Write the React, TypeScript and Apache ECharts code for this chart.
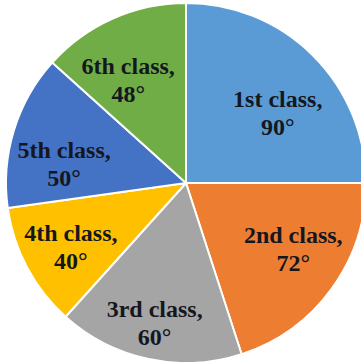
import React, { useEffect, useRef } from "react";
import * as echarts from "echarts";

// Central angle of each class's share, in degrees
const classes = ["1st class", "2nd class", "3rd class", "4th class", "5th class", "6th class"];
const angles = [90, 72, 60, 40, 50, 48];
const colors = ["#5B9BD5", "#ED7D31", "#A5A5A5", "#FFC000", "#4472C4", "#70AD47"];

// Nudges applied to each in-slice label, relative to the default inside spot
const labelNudges: [number, number][] = [
  [26, -4],
  [32, 11],
  [-12, 49],
  [-33, 20],
  [-33, 8],
  [-20, -18],
];

export default function App() {
  const ref = useRef<HTMLDivElement>(null);

  useEffect(() => {
    if (!ref.current) return;
    const chart = echarts.init(ref.current, undefined, { renderer: "svg" });
    chart.setOption({
      animation: false,
      backgroundColor: "#ffffff",
      series: [
        {
          type: "pie",
          center: [186, 183],
          radius: 180,
          startAngle: 90,
          clockwise: true,
          data: classes.map((name, i) => ({
            name,
            value: angles[i],
            itemStyle: { color: colors[i] },
          })),
          itemStyle: { borderColor: "#ffffff", borderWidth: 2 },
          label: {
            show: true,
            position: "inside",
            formatter: "{b},\n{c}°",
            fontFamily: "'Liberation Serif', 'Times New Roman', serif",
            fontWeight: "bold",
            fontSize: 24,
            lineHeight: 28,
            color: "#15171f",
            align: "center",
          },
          labelLine: { show: false },
          labelLayout: (params: any) => {
            const n = labelNudges[params.dataIndex] || [0, 0];
            return { dx: n[0], dy: n[1] };
          },
          emphasis: { disabled: true },
        },
      ],
    });
    return () => chart.dispose();
  }, []);

  return (
    <div
      ref={ref}
      style={{ position: "absolute", left: 0, top: 0, width: 361, height: 362, background: "#fff" }}
    />
  );
}
